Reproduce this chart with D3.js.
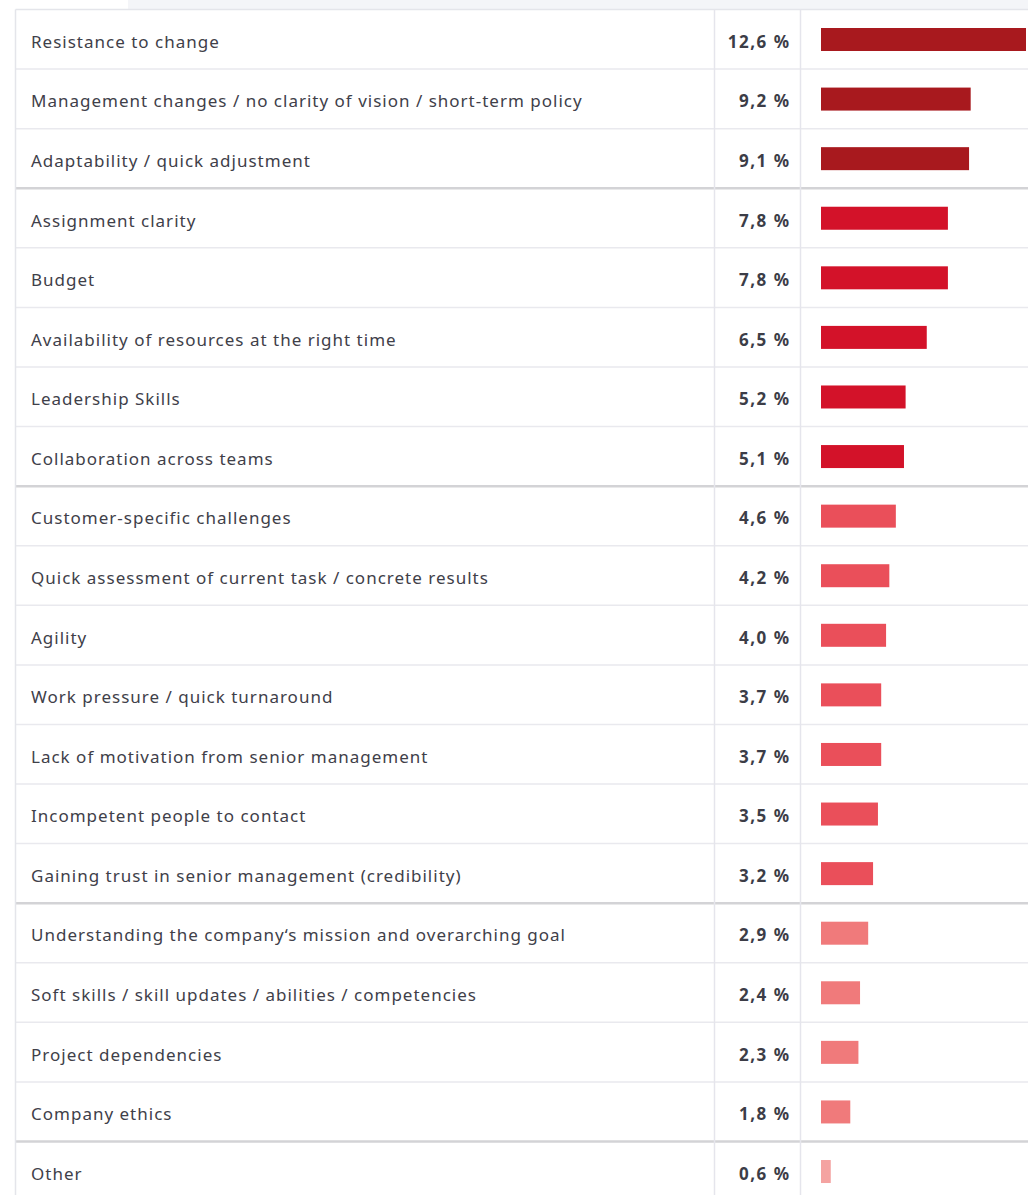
<!DOCTYPE html>
<html>
<head>
<meta charset="utf-8">
<script src="https://cdn.jsdelivr.net/npm/d3@7"></script>
<style>
  html, body { margin: 0; padding: 0; background: #ffffff; }
  svg { display: block; }
</style>
</head>
<body>
<svg id="chart"></svg>
<script>
// Survey results: biggest challenges, share of mentions (%)
const categories = [
  "Resistance to change",
  "Management changes / no clarity of vision / short-term policy",
  "Adaptability / quick adjustment",
  "Assignment clarity",
  "Budget",
  "Availability of resources at the right time",
  "Leadership Skills",
  "Collaboration across teams",
  "Customer-specific challenges",
  "Quick assessment of current task / concrete results",
  "Agility",
  "Work pressure / quick turnaround",
  "Lack of motivation from senior management",
  "Incompetent people to contact",
  "Gaining trust in senior management (credibility)",
  "Understanding the company\u2018s mission and overarching goal",
  "Soft skills / skill updates / abilities / competencies",
  "Project dependencies",
  "Company ethics",
  "Other"
];
const values = [12.6, 9.2, 9.1, 7.8, 7.8, 6.5, 5.2, 5.1, 4.6, 4.2, 4.0, 3.7, 3.7, 3.5, 3.2, 2.9, 2.4, 2.3, 1.8, 0.6];
// importance tier of each row (drives colour and group dividers)
const tiers = [0, 0, 0, 1, 1, 1, 1, 1, 2, 2, 2, 2, 2, 2, 2, 3, 3, 3, 3, 4];
const tierColors = ["#a8191e", "#d31229", "#ea4f5a", "#f07a7b", "#f4a3a1"];

const W = 1028, H = 1195;
const tableTop = 9.5, rowH = 59.58;
const tableLeft = 15.5, colVal = 714.5, colBar = 800.5;

const svg = d3.select("#chart").attr("width", W).attr("height", H);

// light strip above the table
svg.append("rect").attr("x", 128).attr("y", 0).attr("width", W - 128).attr("height", tableTop)
  .attr("fill", "#f4f5f8");

const y = d3.scaleBand().domain(categories).range([tableTop, tableTop + rowH * categories.length]).padding(0);
const x = d3.scaleLinear().domain([0, 12.6]).range([821, 1026]);

const fmt = v => d3.format(".1f")(v).replace(".", ",") + " %";

const rows = svg.append("g").selectAll("g.row")
  .data(categories.map((c, i) => ({ c, v: values[i], t: tiers[i], i })))
  .join("g").attr("class", "row")
  .attr("transform", d => `translate(0,${y(d.c)})`);

rows.append("rect").attr("x", tableLeft).attr("y", 0).attr("width", W - tableLeft).attr("height", y.bandwidth())
  .attr("fill", "#ffffff");

rows.append("text")
  .attr("x", 31).attr("y", y.bandwidth() / 2 + 8.5)
  .attr("font-family", "'Noto Sans', sans-serif")
  .attr("font-size", 17)
  .attr("letter-spacing", 1.0)
  .attr("fill", "#404049")
  .text(d => d.c);

rows.append("text")
  .attr("x", 790.5).attr("y", y.bandwidth() / 2 + 8.5)
  .attr("text-anchor", "end")
  .attr("font-family", "'Noto Sans', sans-serif")
  .attr("font-weight", 700)
  .attr("font-size", 17)
  .attr("letter-spacing", 1.5)
  .attr("fill", "#3c3d47")
  .text(d => fmt(d.v));

rows.append("rect")
  .attr("x", x(0)).attr("y", 18.5)
  .attr("width", d => x(d.v) - x(0)).attr("height", 23)
  .attr("fill", d => tierColors[d.t]);

// row dividers: thin inside a tier, heavier between tiers
const lines = svg.append("g");
categories.forEach((c, i) => {
  if (i === 0) return;
  const yy = y(c);
  const groupBreak = tiers[i] !== tiers[i - 1];
  lines.append("line")
    .attr("x1", tableLeft).attr("x2", W).attr("y1", yy).attr("y2", yy)
    .attr("stroke", groupBreak ? "#d3d3d6" : "#e9e9ee")
    .attr("stroke-width", groupBreak ? 2.5 : 1.5);
});

// table frame and column dividers
lines.append("line").attr("x1", tableLeft).attr("x2", W).attr("y1", tableTop).attr("y2", tableTop)
  .attr("stroke", "#e4e5ea").attr("stroke-width", 1.5);
lines.append("line").attr("x1", tableLeft).attr("x2", tableLeft).attr("y1", tableTop).attr("y2", H)
  .attr("stroke", "#e4e5ea").attr("stroke-width", 1.5);
[colVal, colBar].forEach(cx => {
  lines.append("line").attr("x1", cx).attr("x2", cx).attr("y1", tableTop).attr("y2", H)
    .attr("stroke", "#e5e5ec").attr("stroke-width", 1.5);
});
</script>
</body>
</html>
